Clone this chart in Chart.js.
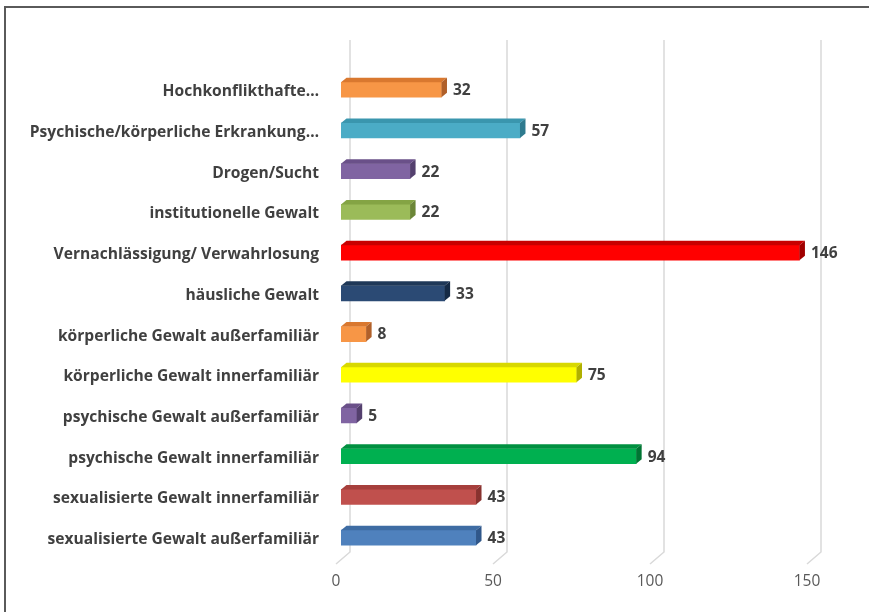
<!DOCTYPE html>
<html><head><meta charset="utf-8">
<script src="https://cdn.jsdelivr.net/npm/chart.js@4"></script>
<style>
html,body{margin:0;padding:0;background:#fff;overflow:hidden}
#wrap{position:relative;width:869px;height:612px}
#frame{position:absolute;left:4px;top:6px;width:900px;height:700px;border-left:2px solid #5a5a5a;border-top:2px solid #5a5a5a;pointer-events:none}
canvas{position:absolute;left:0;top:0}
</style></head><body>
<div id="wrap"><canvas id="c" width="869" height="612"></canvas><div id="frame"></div></div>
<script>
const categories = ["Hochkonflikthafte…","Psychische/körperliche Erkrankung…","Drogen/Sucht","institutionelle Gewalt","Vernachlässigung/ Verwahrlosung","häusliche Gewalt","körperliche Gewalt außerfamiliär","körperliche Gewalt innerfamiliär","psychische Gewalt außerfamiliär","psychische Gewalt innerfamiliär","sexualisierte Gewalt innerfamiliär","sexualisierte Gewalt außerfamiliär"];
const values = [32,57,22,22,146,33,8,75,5,94,43,43];
const frontColors = ["#F79646","#4BACC6","#8064A2","#9BBB59","#FF0000","#2B4A74","#F79646","#FFFF00","#8064A2","#00B050","#C0504D","#4F81BD"];
const topColors   = ["#D9782F","#3A96AE","#6A5089","#84A444","#C80000","#1F3858","#D9782F","#D8D800","#6A5089","#009040","#A63F3C","#3E6CA3"];
const sideColors  = ["#B0602A","#2E7A8E","#54406E","#6B8637","#A00000","#152A45","#B0602A","#B0B000","#54406E","#007533","#88322F","#30578A"];
const xTicks = [0,50,100,150];

const D = 5.5, DY = 4.5;
const threeD = {
  id:'threeD',
  beforeDatasetsDraw(chart){
    const ctx = chart.ctx, xs = chart.scales.x;
    ctx.save();
    ctx.strokeStyle = '#d9d9d9'; ctx.lineWidth = 1.5;
    xTicks.forEach(v=>{
      const px = xs.getPixelForValue(v);
      ctx.beginPath();
      ctx.moveTo(px+9, 40);
      ctx.lineTo(px+9, 552);
      ctx.lineTo(px-5, 564);
      ctx.stroke();
    });
    ctx.restore();
  },
  afterDatasetsDraw(chart){
    const ctx = chart.ctx;
    const meta = chart.getDatasetMeta(0);
    ctx.save();
    meta.data.forEach((el,i)=>{
      const p = el.getProps(['x','y','base','height'], true);
      const top = p.y - p.height/2, bot = p.y + p.height/2;
      ctx.fillStyle = topColors[i];
      ctx.beginPath();
      ctx.moveTo(p.base, top); ctx.lineTo(p.base+D, top-DY); ctx.lineTo(p.x+D, top-DY); ctx.lineTo(p.x, top); ctx.closePath(); ctx.fill();
      ctx.fillStyle = sideColors[i];
      ctx.beginPath();
      ctx.moveTo(p.x, top); ctx.lineTo(p.x+D, top-DY); ctx.lineTo(p.x+D, bot-DY); ctx.lineTo(p.x, bot); ctx.closePath(); ctx.fill();
      ctx.fillStyle = '#404040';
      ctx.font = 'bold 15.5px "Open Sans", sans-serif';
      ctx.textAlign = 'left'; ctx.textBaseline = 'middle';
      ctx.fillText(String(values[i]), p.x + D + 6, p.y + 1);
    });
    ctx.restore();
  }
};

new Chart(document.getElementById('c'), {
  type:'bar',
  data:{labels:categories, datasets:[{data:values, backgroundColor:frontColors, barThickness:15, borderWidth:0}]},
  options:{
    indexAxis:'y', responsive:false, animation:false,
    layout:{padding:{top:69.4,right:57,left:0,bottom:0}},
    plugins:{legend:{display:false}, tooltip:{enabled:false}},
    scales:{
      x:{min:0,max:150, afterBuildTicks(s){s.ticks = xTicks.map(v=>({value:v}));},
        afterFit(s){s.height=54;},
        grid:{display:false, drawTicks:false}, border:{display:false},
        ticks:{padding:14, labelOffset:-5, color:'#595959', font:{family:'"Open Sans", sans-serif', size:15.5}}},
      y:{afterFit(s){s.width=341;},
        grid:{display:false, drawTicks:false}, border:{display:false},
        ticks:{padding:22, labelOffset:2, color:'#404040', font:{family:'"Open Sans", sans-serif', size:15.6, weight:'bold'}}}
    }
  },
  plugins:[threeD]
});
</script></body></html>
